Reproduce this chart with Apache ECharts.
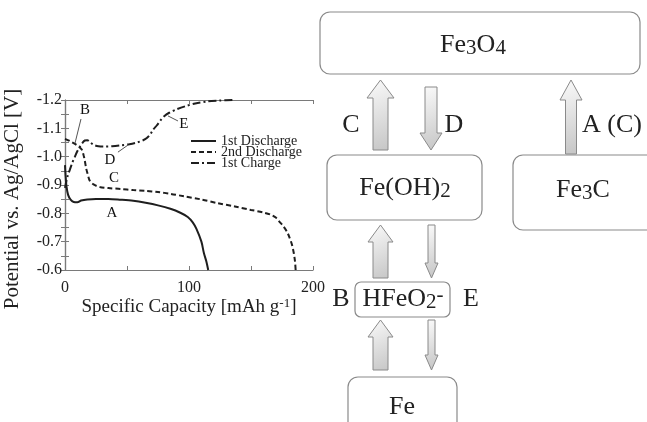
<!DOCTYPE html>
<html>
<head>
<meta charset="utf-8">
<script src="https://cdn.jsdelivr.net/npm/echarts@6/dist/echarts.min.js"></script>
<style>html,body{margin:0;padding:0;background:#fff;}#c{width:647px;height:422px;}</style>
</head>
<body>
<div id="c"></div>
<script>
// ---- chart data ----
const xTicks = [0, 100, 200];
const yTicks = [-1.2, -1.1, -1.0, -0.9, -0.8, -0.7, -0.6];
const seriesNames = ['1st Discharge', '2nd Discharge', '1st Charge'];

const disc1Cap = [0, 0.5, 1.2, 2.5, 4.5, 7, 10, 13, 18, 25, 35, 45, 55, 65, 75, 85, 93, 99, 103, 106, 110, 112, 114, 115.5];
const disc1Pot = [-0.97, -0.93, -0.895, -0.865, -0.848, -0.840, -0.839, -0.845, -0.849, -0.851, -0.851, -0.848, -0.844, -0.837, -0.828, -0.816, -0.802, -0.787, -0.768, -0.745, -0.70, -0.66, -0.63, -0.60];

const disc2Cap = [0, 4, 8, 11, 13.5, 15, 16, 17, 18.5, 20, 23, 28, 35, 45, 55, 65, 75, 85, 96, 110, 123, 137, 150, 160, 166, 170, 173, 176, 179, 181, 183, 184.5, 185.5, 186];
const disc2Pot = [-1.063, -1.055, -1.045, -1.036, -1.025, -1.005, -0.985, -0.96, -0.935, -0.915, -0.902, -0.893, -0.889, -0.886, -0.882, -0.879, -0.875, -0.869, -0.86, -0.849, -0.836, -0.824, -0.812, -0.803, -0.795, -0.785, -0.77, -0.755, -0.735, -0.715, -0.69, -0.66, -0.63, -0.60];

const chargeCap = [0, 2, 4, 6, 8, 10, 12, 14, 16, 18, 20, 23, 27, 32, 38, 45, 52, 58, 63, 66, 69, 71, 74, 77, 80, 84, 90, 97, 105, 115, 125, 136];
const chargePot = [-0.89, -0.93, -0.955, -0.98, -1.0, -1.02, -1.035, -1.048, -1.057, -1.058, -1.052, -1.042, -1.037, -1.036, -1.037, -1.040, -1.044, -1.05, -1.058, -1.066, -1.08, -1.095, -1.11, -1.128, -1.143, -1.155, -1.167, -1.178, -1.188, -1.195, -1.198, -1.2];

// annotation letters (data coordinates)
const noteText = ['A', 'B', 'C', 'D', 'E'];
const noteCap = [37.8, 16.1, 39.5, 36.3, 95.9];
const notePot = [-0.800, -1.165, -0.925, -0.988, -1.115];
// annotation arrows (from -> to, data coordinates)
const arrowFromCap = [12.9, 42.7, 91.1];
const arrowFromPot = [-1.133, -1.016, -1.126];
const arrowToCap = [8.1, 50.8, 83.0];
const arrowToPot = [-1.048, -1.041, -1.144];

// ---- helpers ----
const zip = (a, b) => a.map((v, i) => [v, b[i]]);
const SERIF = 'Liberation Serif';
const INK = '#222';
const FRAME = '#7a7a7a';

function arrowPts(cx, y1, y2, headW, shaftW, headH, up) {
  const hw = headW / 2, sw = shaftW / 2;
  if (up) return [[cx, y1], [cx + hw, y1 + headH], [cx + sw, y1 + headH], [cx + sw, y2], [cx - sw, y2], [cx - sw, y1 + headH], [cx - hw, y1 + headH]];
  return [[cx, y2], [cx - hw, y2 - headH], [cx - sw, y2 - headH], [cx - sw, y1], [cx + sw, y1], [cx + sw, y2 - headH], [cx + hw, y2 - headH]];
}
function arrowEl(cx, y1, y2, headW, shaftW, headH, up) {
  return {
    type: 'polygon', shape: { points: arrowPts(cx, y1, y2, headW, shaftW, headH, up) },
    style: {
      fill: new echarts.graphic.LinearGradient(0, 0, 1, 1, [
        { offset: 0, color: '#fbfbfb' }, { offset: 1, color: '#c4c4c4' }]),
      stroke: '#8a8a8a', lineWidth: 1
    }, silent: true
  };
}
function boxEl(x, y, w, h, r) {
  return { type: 'rect', shape: { x: x, y: y, width: w, height: h, r: r },
    style: { fill: '#fff', stroke: '#8a8a8a', lineWidth: 1.2 }, silent: true };
}
const chemRich = {
  n: { fontFamily: SERIF, fontSize: 26, lineHeight: 28, color: INK },
  s: { fontFamily: SERIF, fontSize: 21, lineHeight: 16, verticalAlign: 'bottom', color: INK },
  p: { fontFamily: SERIF, fontSize: 21, lineHeight: 16, verticalAlign: 'top', color: INK }
};
function textEl(x, y, text) {
  return { type: 'text', x: x, y: y, silent: true,
    style: { text: text, rich: chemRich, align: 'center', verticalAlign: 'middle', font: '26px "Liberation Serif"', fill: INK } };
}

function axisCommon(showLabels) {
  return {
    axisLine: { show: true, lineStyle: { color: FRAME, width: 1.2 } },
    axisTick: { show: true, inside: true, length: 4, lineStyle: { color: FRAME } },
    minorTick: { show: true, splitNumber: 2, length: 4, lineStyle: { color: FRAME } },
    splitLine: { show: false },
    minorSplitLine: { show: false },
    axisLabel: { show: showLabels }
  };
}

const chart = echarts.init(document.getElementById('c'), null, { renderer: 'canvas' });
const xAx = (pos, showLabels) => Object.assign(axisCommon(showLabels), {
  type: 'value', position: pos, min: xTicks[0], max: xTicks[xTicks.length - 1],
  interval: xTicks[1] - xTicks[0]
});
const yAx = (pos, showLabels) => Object.assign(axisCommon(showLabels), {
  type: 'value', position: pos, inverse: true, min: yTicks[0], max: yTicks[yTicks.length - 1],
  interval: 0.1
});
const xBottom = xAx('bottom', true);
xBottom.axisLabel = { show: true, margin: 10, fontFamily: SERIF, fontSize: 16, color: INK, showMinLabel: true, showMaxLabel: true };
xBottom.name = '{a|Specific Capacity [mAh g}{s|-1}{a|]}';
xBottom.nameLocation = 'middle';
xBottom.nameGap = 27;
xBottom.nameTextStyle = { rich: {
  a: { fontFamily: SERIF, fontSize: 19, lineHeight: 20, color: INK },
  s: { fontFamily: SERIF, fontSize: 13, lineHeight: 12, verticalAlign: 'top', color: INK } } };
const yLeft = yAx('left', true);
yLeft.axisLabel = { show: true, margin: 3, fontFamily: SERIF, fontSize: 16, color: INK,
  formatter: v => v.toFixed(1), showMinLabel: true, showMaxLabel: true };

const lineBase = { type: 'line', symbol: 'none', smooth: 0.3, animation: false, silent: true, z: 3 };

chart.setOption({
  animation: false,
  backgroundColor: '#fff',
  grid: { left: 65, top: 100, width: 248, height: 170, outerBoundsMode: 'none', containLabel: false },
  xAxis: [xBottom, xAx('top', false)],
  yAxis: [yLeft, yAx('right', false)],
  legend: {
    orient: 'vertical', left: 190, top: 134, padding: 0, itemWidth: 25, itemHeight: 10, itemGap: -3,
    itemStyle: { opacity: 0, borderWidth: 0 },
    textStyle: { fontFamily: SERIF, fontSize: 14, color: INK },
    data: seriesNames, selectedMode: false
  },
  series: [
    Object.assign({}, lineBase, { name: seriesNames[0], data: zip(disc1Cap, disc1Pot),
      lineStyle: { color: '#1e1e1e', width: 2, type: 'solid' }, itemStyle: { color: '#1e1e1e' } }),
    Object.assign({}, lineBase, { name: seriesNames[1], data: zip(disc2Cap, disc2Pot),
      lineStyle: { color: '#1e1e1e', width: 2, type: [5, 3] }, itemStyle: { color: '#1e1e1e' } }),
    Object.assign({}, lineBase, { name: seriesNames[2], data: zip(chargeCap, chargePot),
      lineStyle: { color: '#1e1e1e', width: 2, type: [8, 3, 2, 3] }, itemStyle: { color: '#1e1e1e' } }),
    {
      type: 'scatter', name: 'notes', animation: false, silent: true, z: 4,
      symbol: 'circle', symbolSize: 0.1, itemStyle: { color: 'rgba(0,0,0,0)' },
      data: noteText.map((t, i) => [noteCap[i], notePot[i], t]),
      label: { show: true, position: 'inside', formatter: p => p.data[2], fontFamily: SERIF, fontSize: 15,
        color: '#111', textBorderWidth: 0, opacity: 1 },
      markLine: {
        silent: true, animation: false, symbol: ['none', 'arrow'], symbolSize: [0, 7],
        lineStyle: { color: '#555', width: 1, type: 'solid' }, label: { show: false },
        data: arrowFromCap.map((c, i) => [{ coord: [c, arrowFromPot[i]] }, { coord: [arrowToCap[i], arrowToPot[i]] }])
      }
    }
  ],
  graphic: { elements: [
    { type: 'text', x: 12, y: 199, rotation: Math.PI / 2, silent: true,
      style: { text: 'Potential vs. Ag/AgCl [V]', font: '21px "Liberation Serif"', fill: INK, align: 'center', verticalAlign: 'middle' } },
    // boxes
    boxEl(320, 12, 320, 62, 10),
    boxEl(327, 155, 155, 65, 10),
    boxEl(513, 155, 150, 75, 10),
    boxEl(355, 282, 95, 35, 6),
    boxEl(348, 377, 109, 60, 10),
    // arrows
    arrowEl(380.5, 80, 150, 27, 15, 18, true),
    arrowEl(431, 87, 150, 22, 12, 17, false),
    arrowEl(571, 80, 154, 22, 11, 20, true),
    arrowEl(380.5, 225, 278, 25, 15, 17, true),
    arrowEl(431.5, 225, 278, 13, 7, 15, false),
    arrowEl(380.5, 320, 370, 25, 15, 17, true),
    arrowEl(431.5, 320, 370, 13, 7, 15, false),
    // species
    textEl(473, 45, '{n|Fe}{s|3}{n|O}{s|4}'),
    textEl(405, 188, '{n|Fe(OH)}{s|2}'),
    textEl(583, 190, '{n|Fe}{s|3}{n|C}'),
    textEl(403, 299, '{n|HFeO}{s|2}{p|-}'),
    textEl(402, 407, '{n|Fe}'),
    // reaction labels
    textEl(351, 125, '{n|C}'),
    textEl(454, 125, '{n|D}'),
    textEl(612, 125, '{n|A (C)}'),
    textEl(341, 299, '{n|B}'),
    textEl(471, 299, '{n|E}')
  ] }
});
</script>
</body>
</html>
